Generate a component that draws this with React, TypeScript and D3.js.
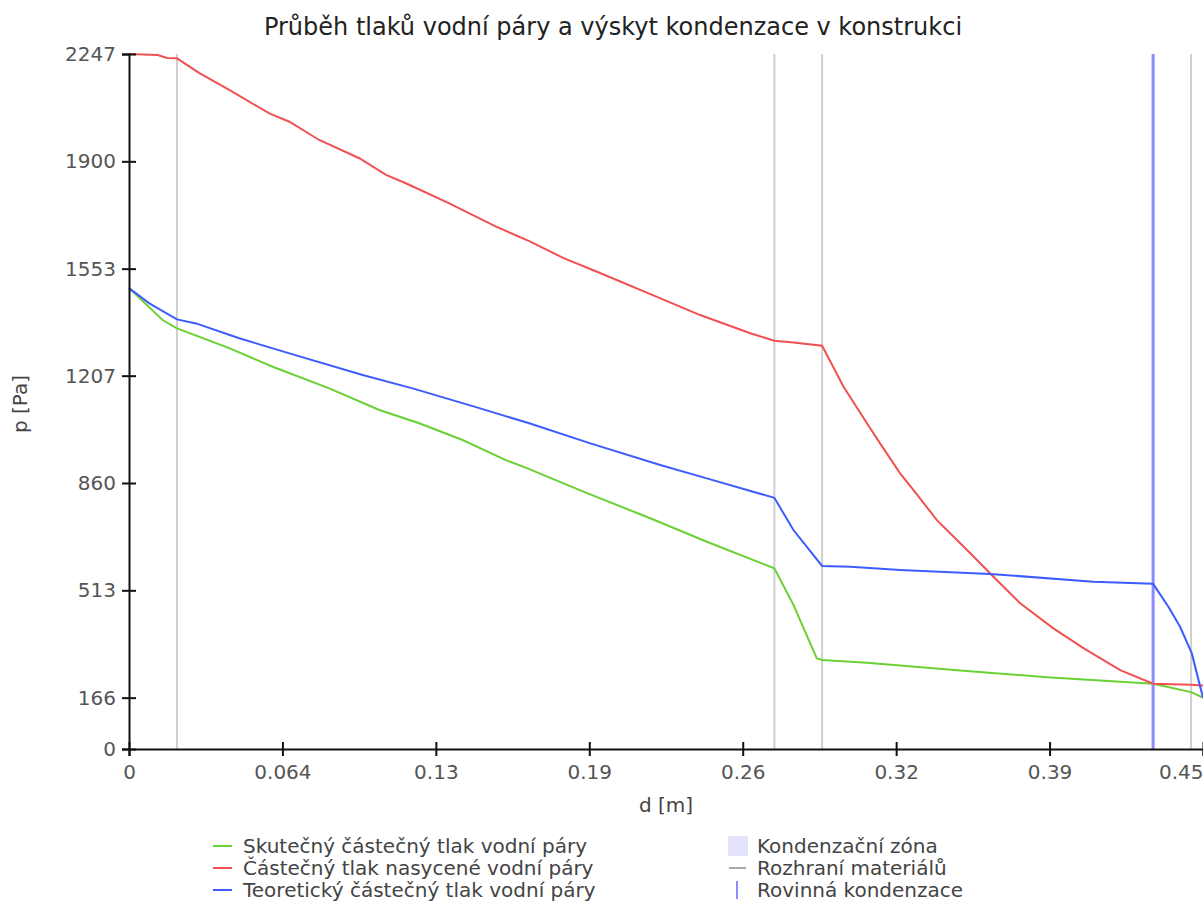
import React from "react";
import * as d3 from "d3";

// d [m] positions and pressures [Pa]
const dSaturated = [0, 0.012, 0.016, 0.0201, 0.0295, 0.042, 0.0588, 0.0672, 0.0797, 0.0965, 0.1077, 0.116, 0.1342, 0.1538, 0.1677, 0.1821, 0.1961, 0.2212, 0.2393, 0.2603, 0.2704, 0.2784, 0.2904, 0.2994, 0.3092, 0.3147, 0.3231, 0.3287, 0.3385, 0.3525, 0.3622, 0.3734, 0.3873, 0.3999, 0.4153, 0.4291, 0.445, 0.45];
const pSaturated = [2247, 2244, 2234, 2233, 2185, 2131, 2055, 2028, 1969, 1910, 1856, 1829, 1764, 1689, 1642, 1587, 1543, 1462, 1403, 1344, 1320, 1314, 1304, 1171, 1053, 988, 891, 837, 740, 633, 557, 471, 390, 326, 255, 211, 208, 205];

const dTheoretical = [0, 0.0085, 0.0201, 0.0281, 0.0462, 0.0672, 0.0979, 0.1188, 0.1468, 0.1677, 0.1933, 0.2226, 0.2421, 0.2704, 0.2784, 0.2904, 0.3022, 0.3231, 0.3608, 0.4041, 0.4291, 0.4355, 0.4404, 0.4453, 0.45];
const pTheoretical = [1490, 1441, 1389, 1376, 1328, 1279, 1209, 1166, 1102, 1053, 988, 918, 875, 812, 708, 592, 589, 579, 566, 541, 534, 460, 395, 309, 166];

const dActual = [0, 0.0141, 0.0201, 0.042, 0.0602, 0.0839, 0.1049, 0.1216, 0.1398, 0.1579, 0.1667, 0.1904, 0.2184, 0.2421, 0.2704, 0.2784, 0.2882, 0.2904, 0.3092, 0.3496, 0.3846, 0.4291, 0.445, 0.45];
const pActual = [1490, 1387, 1360, 1296, 1236, 1166, 1096, 1053, 999, 934, 908, 832, 746, 670, 584, 466, 293, 288, 279, 253, 232, 211, 184, 166];

const interfaces = [0.0201, 0.2704, 0.2904, 0.445];
const condensationPlanes = [0.4291];

const dMax = 0.45;
const pMax = 2247;
const xTickLabels = ["0", "0.064", "0.13", "0.19", "0.26", "0.32", "0.39", "0.45"];
const yTicks = [0, 166, 513, 860, 1207, 1553, 1900, 2247];

const seriesNames = [
  "Skutečný částečný tlak vodní páry",
  "Částečný tlak nasycené vodní páry",
  "Teoretický částečný tlak vodní páry",
];
const extraNames = ["Kondenzační zóna", "Rozhraní materiálů", "Rovinná kondenzace"];

const FONT = "DejaVu Sans";
const GREEN = "#6ad134";
const RED = "#f25050";
const BLUE = "#3d5cff";

const App = () => {
  const ref = React.useRef(null);

  React.useEffect(() => {
    const svg = d3.select(ref.current);
    svg.selectAll("*").remove();

    const left = 129, right = 1203, top = 54, bottom = 749;

    const x = d3.scaleLinear().domain([0, dMax]).range([left, right]);
    const y = d3.scaleLinear().domain([0, pMax]).range([bottom, top]);

    // title
    svg.append("text")
      .attr("x", 613)
      .attr("y", 35)
      .attr("text-anchor", "middle")
      .attr("font-family", FONT)
      .attr("font-size", 24)
      .attr("fill", "#222")
      .text("Průběh tlaků vodní páry a výskyt kondenzace v konstrukci");

    // material interfaces + condensation plane
    svg.append("g")
      .selectAll("line")
      .data(interfaces)
      .join("line")
      .attr("x1", (d) => x(d))
      .attr("x2", (d) => x(d))
      .attr("y1", top)
      .attr("y2", bottom)
      .attr("stroke", "#cfcfcf")
      .attr("stroke-width", 2);

    svg.append("g")
      .selectAll("line")
      .data(condensationPlanes)
      .join("line")
      .attr("x1", (d) => x(d))
      .attr("x2", (d) => x(d))
      .attr("y1", top)
      .attr("y2", bottom)
      .attr("stroke", "#8c8cff")
      .attr("stroke-width", 3);

    // series lines
    const series = [
      { d: dActual, p: pActual, color: GREEN },
      { d: dSaturated, p: pSaturated, color: RED },
      { d: dTheoretical, p: pTheoretical, color: BLUE },
    ];
    const line = d3.line().x((v) => x(v[0])).y((v) => y(v[1]));
    series.forEach((s) => {
      svg.append("path")
        .attr("d", line(s.d.map((v, i) => [v, s.p[i]])))
        .attr("fill", "none")
        .attr("stroke", s.color)
        .attr("stroke-width", 2);
    });

    // axes
    const yAxis = svg.append("g")
      .attr("transform", `translate(${left},0)`)
      .call(d3.axisLeft(y).tickValues(yTicks).tickFormat(d3.format("d")).tickSize(7).tickPadding(6));
    const xTickVals = xTickLabels.map((_, i) => (i * dMax) / (xTickLabels.length - 1));
    const xAxis = svg.append("g")
      .attr("transform", `translate(0,${bottom})`)
      .call(d3.axisBottom(x).tickValues(xTickVals).tickFormat((_, i) => xTickLabels[i]).tickSize(7).tickPadding(9));

    [yAxis, xAxis].forEach((g) => {
      g.select(".domain").attr("stroke", "#111").attr("stroke-width", 2);
      g.selectAll(".tick line").attr("stroke", "#111").attr("stroke-width", 2);
      g.selectAll(".tick text").attr("font-family", FONT).attr("font-size", 20).attr("fill", "#555");
    });
    yAxis.selectAll(".tick line").attr("x1", 7);
    xAxis.selectAll(".tick line").attr("y1", -7);
    xAxis.selectAll(".tick:last-of-type text").attr("text-anchor", "end");

    // axis titles
    svg.append("text")
      .attr("transform", "translate(27,404) rotate(-90)")
      .attr("text-anchor", "middle")
      .attr("font-family", FONT)
      .attr("font-size", 20)
      .attr("fill", "#444")
      .text("p [Pa]");
    svg.append("text")
      .attr("x", (left + right) / 2)
      .attr("y", 812)
      .attr("text-anchor", "middle")
      .attr("font-family", FONT)
      .attr("font-size", 20)
      .attr("fill", "#444")
      .text("d [m]");

    // legend
    const rowY = [846, 868, 890];
    const leg = svg.append("g").attr("font-family", FONT).attr("font-size", 20).attr("fill", "#444");
    seriesNames.forEach((name, i) => {
      leg.append("line")
        .attr("x1", 213).attr("x2", 232)
        .attr("y1", rowY[i]).attr("y2", rowY[i])
        .attr("stroke", series[i].color).attr("stroke-width", 2);
      leg.append("text").attr("x", 243).attr("y", rowY[i] + 7).text(name);
    });

    leg.append("rect")
      .attr("x", 728).attr("y", rowY[0] - 10)
      .attr("width", 20).attr("height", 20)
      .attr("fill", "#e3e3fb");
    leg.append("line")
      .attr("x1", 729).attr("x2", 746)
      .attr("y1", rowY[1]).attr("y2", rowY[1])
      .attr("stroke", "#aaa").attr("stroke-width", 2);
    leg.append("line")
      .attr("x1", 737).attr("x2", 737)
      .attr("y1", rowY[2] - 9).attr("y2", rowY[2] + 9)
      .attr("stroke", "#8c8cff").attr("stroke-width", 2);
    extraNames.forEach((name, i) => {
      leg.append("text").attr("x", 757).attr("y", rowY[i] + 7).text(name);
    });
  }, []);

  return (
    <svg
      ref={ref}
      width={1203}
      height={901}
      style={{ position: "absolute", left: 0, top: 0, background: "#fff" }}
    ></svg>
  );
};

export default App;
